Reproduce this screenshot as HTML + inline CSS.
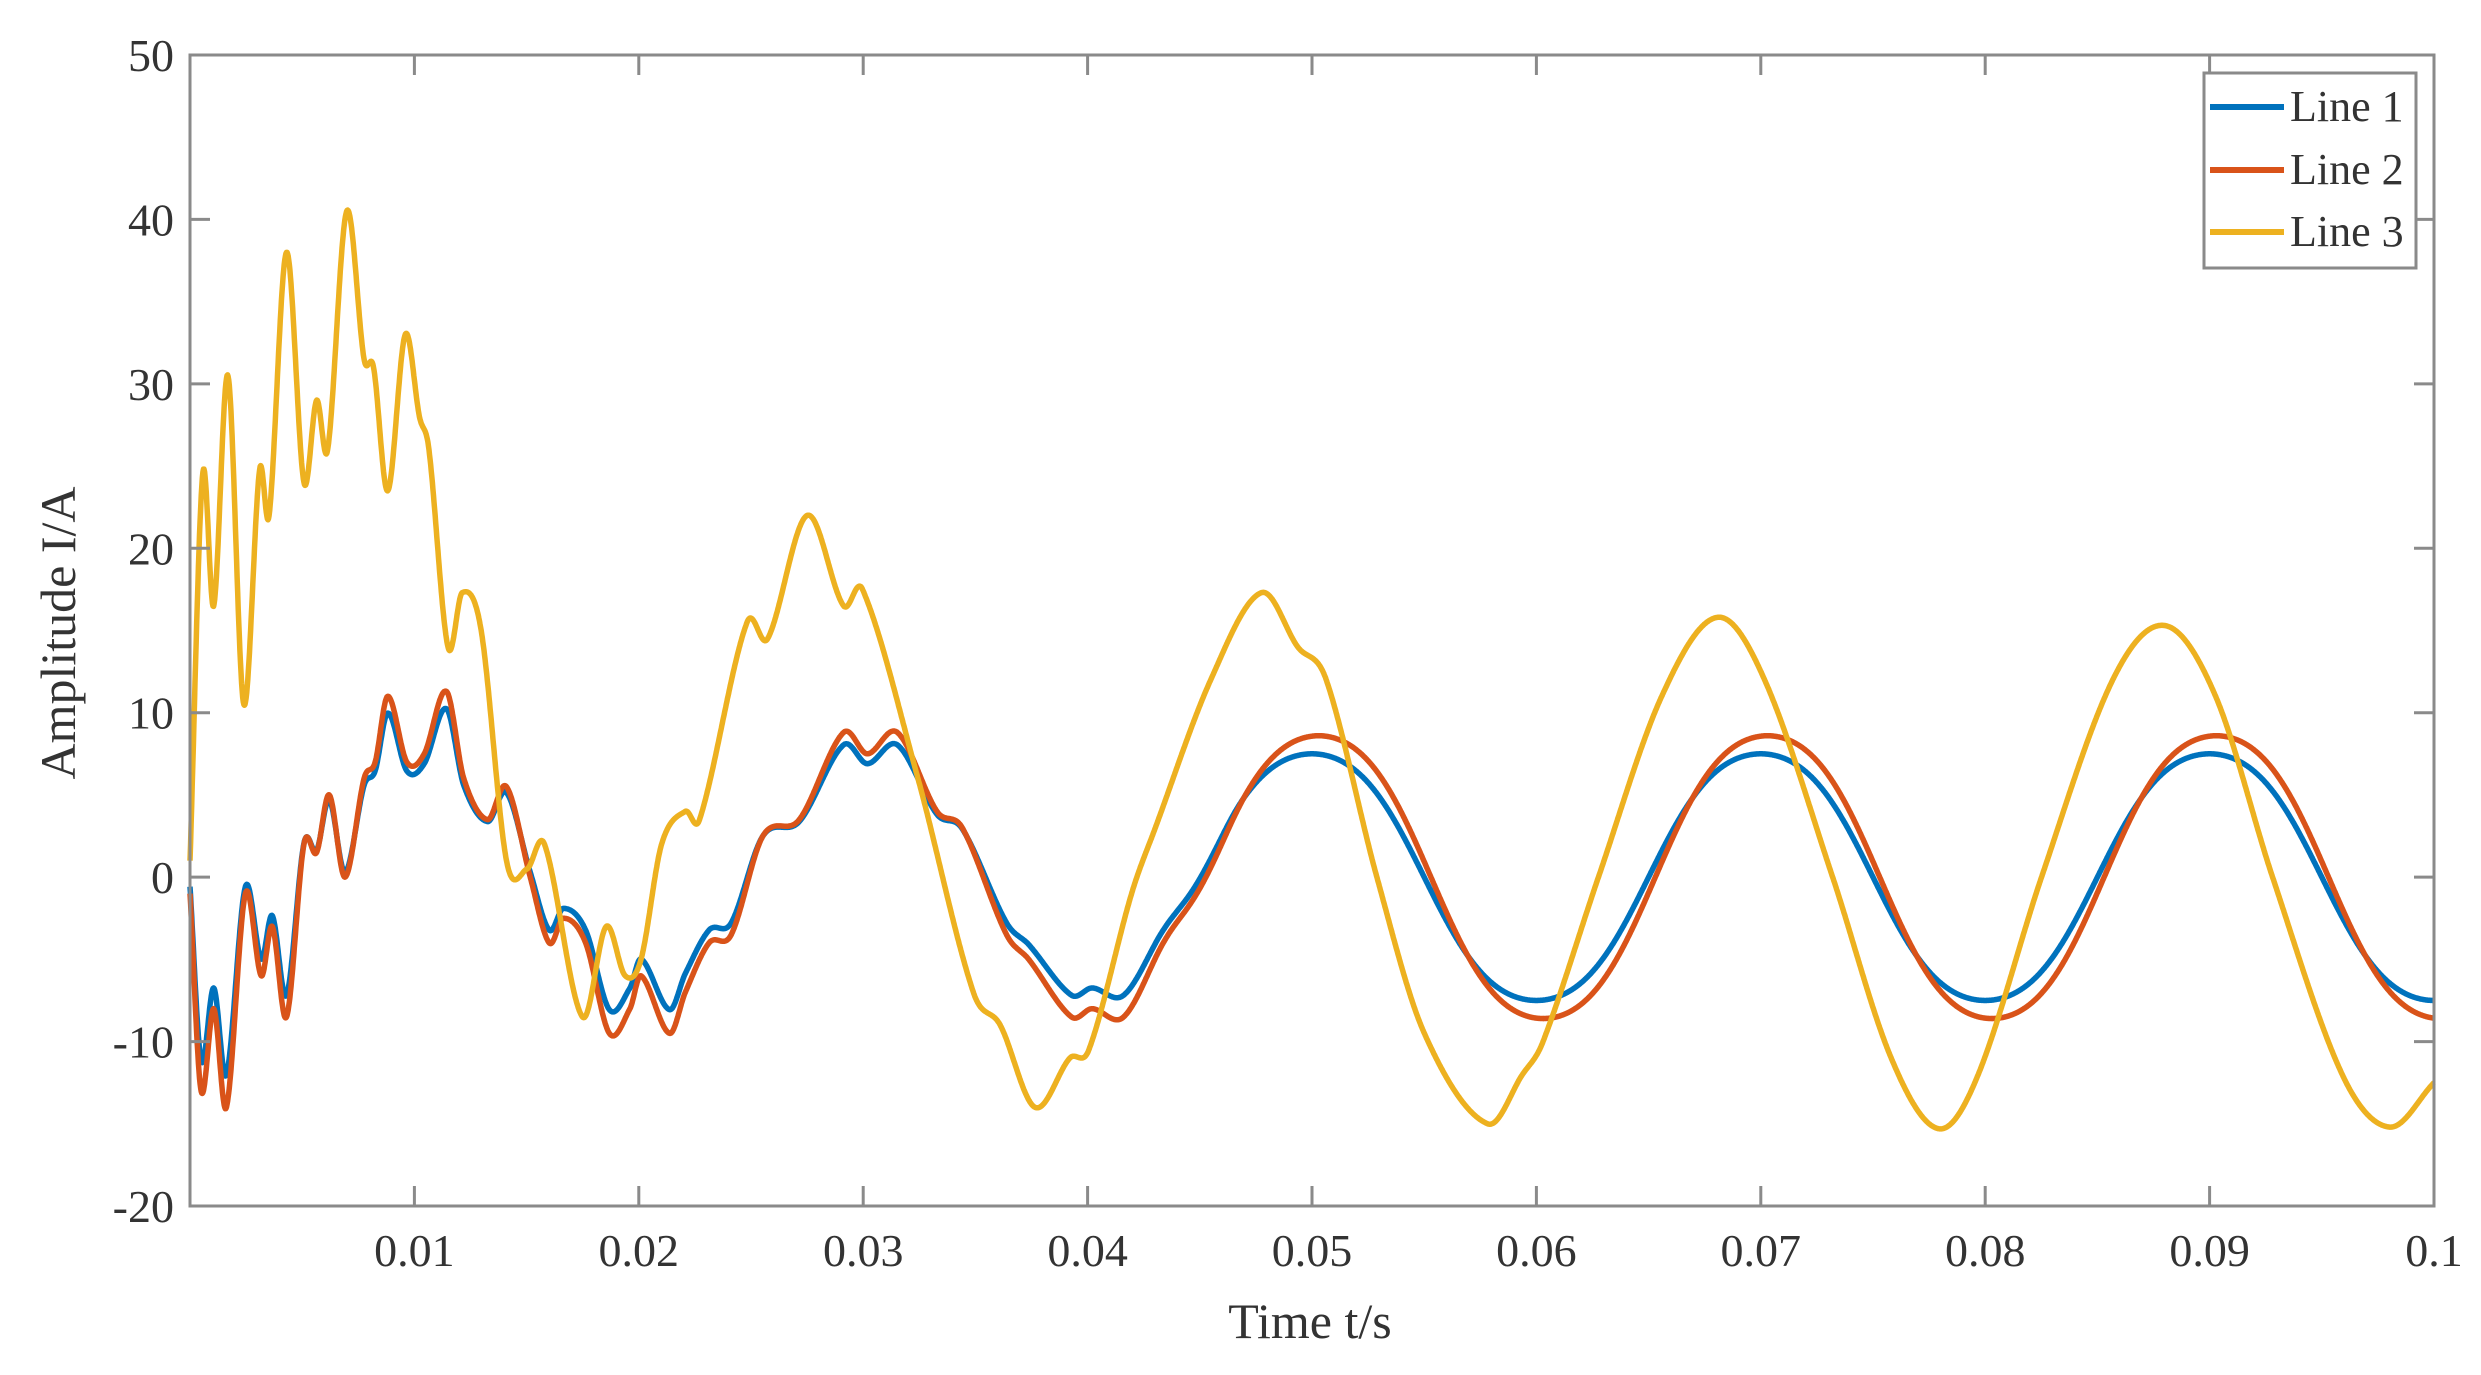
<!DOCTYPE html>
<html><head><meta charset="utf-8"><style>
html,body{margin:0;padding:0;background:#fff;}
svg{display:block;font-family:"Liberation Serif",serif;}
</style></head><body>
<svg id="s" width="2481" height="1375" xmlns="http://www.w3.org/2000/svg">
<g id="plot"></g>
<rect x="190" y="55" width="2244" height="1151" fill="none" stroke="#8a8a8a" stroke-width="3"/>
<g id="ticks" stroke="#8a8a8a" stroke-width="3"></g>
<g font-size="46" fill="#333" id="lab"></g>
<text x="1310" y="1338" font-size="50" fill="#333" text-anchor="middle">Time t/s</text>
<text transform="translate(75,633) rotate(-90)" font-size="50" fill="#333" text-anchor="middle">Amplitude I/A</text>
<rect x="2204" y="73" width="212" height="195" fill="#fff" stroke="#8a8a8a" stroke-width="3"/>
<line x1="2210" y1="107" x2="2284" y2="107" stroke="#0072BD" stroke-width="6"/>
<line x1="2210" y1="170" x2="2284" y2="170" stroke="#D95319" stroke-width="6"/>
<line x1="2210" y1="232" x2="2284" y2="232" stroke="#EDB120" stroke-width="6"/>
<g font-size="44" fill="#333"><text x="2290" y="121">Line 1</text><text x="2290" y="184">Line 2</text><text x="2290" y="246">Line 3</text></g>
</svg>
<script>
var L=190,R=2434,T=55,B=1206;
function X(t){return L+(R-L)*t/0.1;}
function Y(v){return B-(B-T)*(v+20)/70;}
var tk=document.getElementById('ticks'),lab=document.getElementById('lab'),h='',lh='';
for(var i=1;i<=10;i++){var x=X(i*0.01);h+='<line x1="'+x+'" y1="'+B+'" x2="'+x+'" y2="'+(B-20)+'"/><line x1="'+x+'" y1="'+T+'" x2="'+x+'" y2="'+(T+20)+'"/>';
lh+='<text x="'+x+'" y="1266" text-anchor="middle">'+(i==10?'0.1':'0.'+(i<10?'0'+i:i))+'</text>';}
for(var v=-20;v<=50;v+=10){var y=Y(v);h+='<line x1="'+L+'" y1="'+y+'" x2="'+(L+20)+'" y2="'+y+'"/><line x1="'+R+'" y1="'+y+'" x2="'+(R-20)+'" y2="'+y+'"/>';
lh+='<text x="174" y="'+(y+16)+'" text-anchor="end">'+v+'</text>';}
tk.innerHTML=h;lab.innerHTML=lh;
function P(a){return a.map(function(p){return[(p[0]-120)/14180,p[1]];});}
var k3=P([[120,1],[128,24.5],[135,16.5],[144,30.5],[154,10.5],[164,24.8],[170,22],[181,38],[192,24],[200,29],[207,26],[219,40.5],[230,31.5],[236,31],[245,23.5],[256,33],[265,28],[271,26],[283,14],[292,17.3],[304,15],[320,1],[333,0.5],[344,2],[368,-8.5],[383,-3],[395,-6],[405,-5],[418,2],[433,4],[442,3.5],[472,15.5],[485,14.5],[510,22],[533,16.5],[545,17.5],[580,6],[615,-7],[632,-9],[654,-14],[676,-11],[688,-10.5],[715,-1],[730,3],[765,12],[797,17.3],[820,14],[838,12],[870,0],[900,-9.5],[940,-15],[962,-12],[975,-10],[1010,0],[1050,11],[1085,15.8],[1115,12],[1158,0],[1195,-11],[1225,-15.3],[1250,-12],[1290,0],[1335,12],[1368,15.3],[1400,11],[1436,0],[1480,-12],[1510,-15.2],[1538,-12.5]]);
var k2=P([[120,-1],[127,-13],[135,-8],[143,-14],[155,-1],[165,-6],[172,-3],[181,-8.5],[192,2],[200,1.5],[208,5],[218,0],[230,6],[237,7],[245,11],[257,7],[268,7.5],[282,11.3],[293,6],[308,3.5],[320,5.5],[335,0],[347,-4],[356,-2.5],[370,-4],[385,-9.5],[398,-8],[405,-6],[423,-9.5],[433,-7],[448,-4],[462,-3.5],[482,2.5],[505,3.5],[533,8.8],[548,7.5],[567,8.8],[592,4],[608,3],[636,-3.5],[650,-5],[677,-8.5],[690,-8],[710,-8.5],[735,-4],[755,-1],[780,3]]);
function interp(k,t){var n=k.length;if(t<=k[0][0])return k[0][1];
for(var i=0;i<n-1;i++){if(t<=k[i+1][0]){var x0=k[i][0],x1=k[i+1][0],y0=k[i][1],y1=k[i+1][1],hh=x1-x0;
var m0=i>0?(y1-k[i-1][1])/(x1-k[i-1][0]):(y1-y0)/hh;var m1=i<n-2?(k[i+2][1]-y0)/(k[i+2][0]-x0):(y1-y0)/hh;
var s=(t-x0)/hh,s2=s*s,s3=s2*s;return (2*s3-3*s2+1)*y0+(s3-2*s2+s)*hh*m0+(-2*s3+3*s2)*y1+(s3-s2)*hh*m1;}}return k[n-1][1];}
function sw(t,A,ph){var th=2*Math.PI*50*(t-ph);return A*(Math.cos(th)-0.04*Math.cos(3*th))/0.96;}
var ta=0.0435,tb=0.047;
function mix(e,c,t){if(t<ta)return e;if(t>tb)return c;var w=(t-ta)/(tb-ta);w=w*w*(3-2*w);return (1-w)*e+w*c;}
function f2(t){return mix(interp(k2,t),sw(t,8.6,0.0703),t);}
function f1(t){return mix(interp(k2,t)*0.88+0.3,sw(t,7.5,0.0700),t);}
function f3(t){return interp(k3,t);}
function path(f,col){var d='';for(var i=0;i<=4000;i++){var t=i*0.1/4000;d+=(i?'L':'M')+X(t).toFixed(1)+' '+Y(f(t)).toFixed(1);}
return '<path d="'+d+'" fill="none" stroke="'+col+'" stroke-width="5.5" stroke-linejoin="round"/>';}
document.getElementById('plot').innerHTML=path(f1,'#0072BD')+path(f2,'#D95319')+path(f3,'#EDB120');
</script>
</body></html>
